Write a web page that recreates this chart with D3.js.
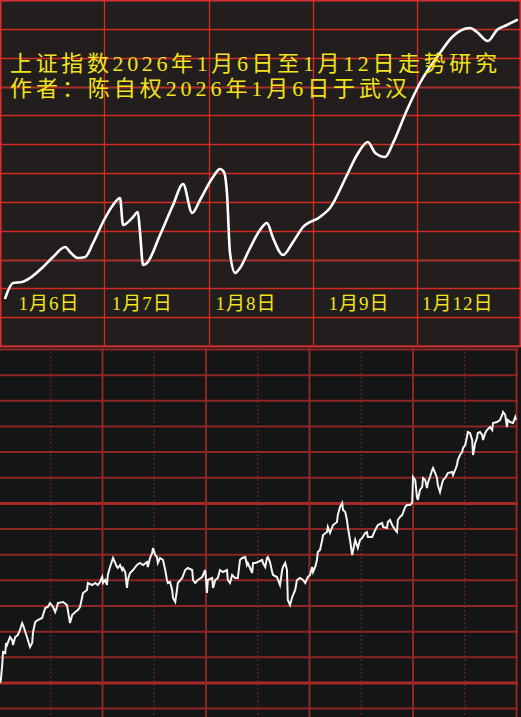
<!DOCTYPE html>
<html>
<head>
<meta charset="utf-8">
<script src="https://cdn.jsdelivr.net/npm/d3@7"></script>
<style>
html,body{margin:0;padding:0;background:#141517;}
svg{display:block;}
</style>
</head>
<body>
<svg id="chart" width="521" height="717"></svg>
<script>
// ---------- DATA ----------
const titleLines = ["上证指数2026年1月6日至1月12日走势研究", "作者：陈自权2026年1月6日于武汉"];
const dayLabels = ["1月6日", "1月7日", "1月8日", "1月9日", "1月12日"];
const dayLabelMinutes = [113, 327, 566, 826, 1053];

// top panel: smoothed trend (minute index, index value)
const topMinutes = [12,30,51,69,99,122,150,161,179,196,214,237,260,276,283,304,317,322,329,338,368,398,421,442,460,490,506,515,522,529,541,552,575,598,614,628,651,674,697,736,759,798,821,846,863,886,904,936,966,1012,1040,1081,1097,1122,1143,1166,1189];
const topValues  = [4008,4023,4024,4028,4039,4049,4059,4054,4048,4049,4063,4084,4101,4108,4081,4088,4094,4074,4041,4043,4071,4101,4122,4093,4106,4129,4137,4134,4113,4053,4033,4038,4058,4076,4083,4068,4051,4064,4079,4089,4098,4131,4151,4164,4153,4149,4163,4196,4223,4253,4269,4278,4274,4265,4276,4281,4286];

// bottom panel: minute trace (minute index, value)
const bottomMinutes = [0,2,5,7,12,14,16,23,28,30,35,41,46,51,53,62,69,74,76,81,87,97,99,104,110,115,122,127,131,133,145,154,156,161,166,173,179,184,191,200,202,212,219,225,230,235,237,242,246,248,253,260,269,271,276,281,283,288,292,294,299,306,315,322,329,338,340,345,350,352,357,361,363,368,375,380,384,386,391,396,398,403,407,409,419,426,432,442,444,449,455,465,472,476,478,488,490,495,501,506,513,522,524,529,534,541,547,552,557,564,568,570,575,580,582,587,593,603,605,610,614,616,621,626,628,637,644,649,651,656,660,662,667,672,679,683,690,697,702,708,713,718,720,725,729,731,736,741,743,752,754,759,766,775,777,782,787,789,794,798,800,805,810,817,823,828,833,840,844,846,856,863,869,879,881,890,892,897,902,909,913,915,920,925,932,936,943,948,950,955,959,961,966,971,973,978,982,984,989,994,996,1001,1005,1007,1012,1017,1019,1024,1030,1040,1042,1047,1051,1053,1058,1063,1065,1070,1074,1076,1081,1086,1088,1093,1097,1099,1104,1109,1111,1116,1120,1127,1132,1134,1143,1150,1155,1157,1162,1166,1168,1173,1180,1185,1187];
const bottomValues  = [3034,3037,3052,3065,3064,3074,3072,3080,3077,3072,3080,3082,3087,3094,3092,3080,3070,3074,3085,3095,3097,3099,3102,3109,3110,3114,3110,3105,3110,3114,3115,3112,3107,3094,3102,3105,3107,3110,3124,3127,3134,3132,3134,3132,3135,3140,3134,3137,3132,3142,3150,3159,3150,3149,3152,3147,3149,3145,3129,3137,3144,3147,3152,3154,3152,3155,3150,3159,3164,3169,3162,3160,3154,3159,3157,3147,3137,3134,3135,3127,3119,3115,3127,3134,3139,3147,3149,3147,3137,3134,3137,3140,3147,3124,3137,3139,3129,3137,3139,3147,3145,3147,3137,3134,3142,3139,3139,3157,3159,3160,3152,3154,3149,3144,3154,3154,3155,3157,3154,3150,3159,3160,3155,3145,3142,3140,3132,3147,3150,3154,3147,3117,3112,3120,3127,3137,3139,3137,3134,3140,3142,3150,3145,3150,3157,3165,3167,3177,3182,3185,3190,3184,3192,3195,3202,3210,3214,3207,3205,3197,3190,3177,3162,3177,3169,3177,3179,3184,3185,3180,3180,3187,3192,3194,3190,3189,3195,3197,3192,3187,3185,3197,3200,3202,3210,3212,3212,3214,3240,3237,3220,3217,3227,3230,3239,3237,3229,3234,3240,3247,3249,3244,3239,3232,3225,3234,3237,3239,3244,3245,3242,3247,3252,3257,3262,3265,3269,3272,3280,3285,3284,3277,3262,3274,3279,3284,3285,3282,3277,3284,3287,3290,3287,3294,3295,3297,3302,3305,3302,3290,3297,3295,3294,3300,3297];

// ---------- DRAW ----------
const svg = d3.select("#chart");
const W = 521;
const textFont = "'Liberation Serif', 'Noto Sans CJK SC', serif";

// top panel
const topH = 346;
const xTop = d3.scaleLinear().domain([0, 1200]).range([0, 1200 / 2.3]);
const yTop = d3.scaleLinear().domain([3960, 4306]).range([topH, 0]);

svg.append("rect").attr("x", 0).attr("y", 0).attr("width", W).attr("height", topH + 2).attr("fill", "#221e1d");

const topG = svg.append("g");
const topRows = d3.range(1, 12).map(i => 3960 + i * (346 / 12));
topG.selectAll("line.h").data(topRows).join("line")
  .attr("x1", 0).attr("x2", W)
  .attr("y1", d => Math.round(yTop(d)) + 0.5).attr("y2", d => Math.round(yTop(d)) + 0.5)
  .attr("stroke", (d, i) => (i === 2 || i === 8) ? "#a8302a" : "#d42a26")
  .attr("stroke-width", (d, i) => (i === 2 || i === 8) ? 2 : 1.3);
topG.selectAll("line.v").data([240, 480, 720, 960]).join("line")
  .attr("x1", d => Math.round(xTop(d)) + 0.5).attr("x2", d => Math.round(xTop(d)) + 0.5)
  .attr("y1", 0).attr("y2", topH)
  .attr("stroke", "#d42a26").attr("stroke-width", 1.3);
// borders
topG.append("rect").attr("x", 0.75).attr("y", 0.75).attr("width", W - 1.5).attr("height", topH - 0.5)
  .attr("fill", "none").attr("stroke", "#d83030").attr("stroke-width", 1.5);

// top line
const topData = topMinutes.map((m, i) => [m, topValues[i]]);
svg.append("path").datum(topData)
  .attr("fill", "none").attr("stroke", "#ffffff").attr("stroke-width", 2.6)
  .attr("stroke-linejoin", "round").attr("stroke-linecap", "round")
  .attr("d", d3.line().x(d => xTop(d[0])).y(d => yTop(d[1])).curve(d3.curveMonotoneX));

// titles
const titleG = svg.append("g").attr("font-family", textFont).attr("fill", "#f2e41a");
titleG.selectAll("text").data(titleLines).join("text")
  .attr("x", 10).attr("y", (d, i) => 71 + i * 25)
  .attr("font-size", 22)
  .attr("textLength", (d, i) => i === 0 ? 487 : 397)
  .attr("lengthAdjust", "spacing")
  .text(d => d);

// day labels
svg.append("g").attr("font-family", textFont).attr("fill", "#f2e41a")
  .selectAll("text").data(dayLabels).join("text")
  .attr("x", (d, i) => xTop(dayLabelMinutes[i]))
  .attr("y", 310)
  .attr("text-anchor", "middle")
  .attr("font-size", 19)
  .attr("letter-spacing", 1)
  .text(d => d);

// bottom panel
const botTop = 348;
svg.append("rect").attr("x", 0).attr("y", botTop).attr("width", W).attr("height", 717 - botTop).attr("fill", "#141517");
const xGrid = d3.scaleLinear().domain([0, 5]).range([-1, 516.5]);
const bg = svg.append("g");
const botRows = d3.range(0, 15);
bg.selectAll("line.h").data(botRows).join("line")
  .attr("x1", 0).attr("x2", 518)
  .attr("y1", d => 349.5 + d * 25.65).attr("y2", d => 349.5 + d * 25.65)
  .attr("stroke", d => (d === 6 || d === 13) ? "#a82a28" : "#8e2624")
  .attr("stroke-width", d => (d === 6 || d === 13) ? 3 : 2);
bg.selectAll("line.dv").data([0.5, 1.5, 2.5, 3.5, 4.5]).join("line")
  .attr("x1", d => xGrid(d)).attr("x2", d => xGrid(d))
  .attr("y1", botTop).attr("y2", 717)
  .attr("stroke", "#8e2624").attr("stroke-width", 1.2).attr("stroke-dasharray", "1.5,2.6");
bg.selectAll("line.sv").data([1, 2, 3, 4, 5]).join("line")
  .attr("x1", d => xGrid(d)).attr("x2", d => xGrid(d))
  .attr("y1", botTop).attr("y2", 717)
  .attr("stroke", "#8e2624").attr("stroke-width", 2);
svg.append("line").attr("x1", 0).attr("x2", W).attr("y1", 346.5).attr("y2", 346.5)
  .attr("stroke", "#d83030").attr("stroke-width", 1.5);

const xBot = d3.scaleLinear().domain([0, 1200]).range([0, 1200 / 2.3]);
const yBot = d3.scaleLinear().domain([3000, 3369]).range([717, 348]);
const botData = bottomMinutes.map((m, i) => [m, bottomValues[i]]);
svg.append("path").datum(botData)
  .attr("fill", "none").attr("stroke", "#f4f4f4").attr("stroke-width", 2)
  .attr("stroke-linejoin", "miter")
  .attr("d", d3.line().x(d => xBot(d[0])).y(d => yBot(d[1])).curve(d3.curveLinear));
</script>
</body>
</html>
